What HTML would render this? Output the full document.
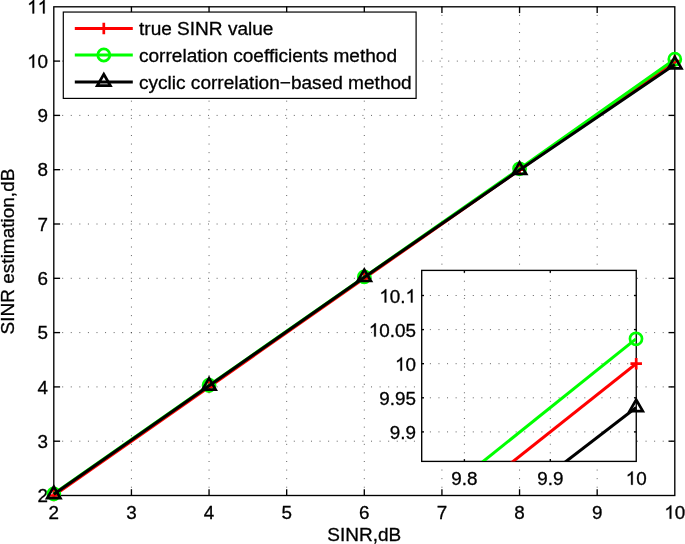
<!DOCTYPE html>
<html><head><meta charset="utf-8"><title>SINR estimation</title>
<style>
html,body{margin:0;padding:0;background:#fff;}
body{width:685px;height:544px;overflow:hidden;}
svg{display:block;filter:opacity(1);will-change:transform;}
text{font-family:"Liberation Sans",sans-serif;font-size:18.5px;fill:#000;stroke:#000;stroke-width:0.3px;}
</style></head><body>
<svg width="685" height="544" viewBox="0 0 685 544">
<rect x="0" y="0" width="685" height="544" fill="#fff"/>
<g stroke="#000" stroke-opacity="0.62" stroke-width="1" stroke-dasharray="1 7.579" fill="none">
<line x1="131.43" y1="6.30" x2="131.43" y2="495.50"/>
<line x1="209.05" y1="6.30" x2="209.05" y2="495.50"/>
<line x1="286.68" y1="6.30" x2="286.68" y2="495.50"/>
<line x1="364.30" y1="6.30" x2="364.30" y2="495.50"/>
<line x1="441.93" y1="6.30" x2="441.93" y2="495.50"/>
<line x1="519.55" y1="6.30" x2="519.55" y2="495.50"/>
<line x1="597.17" y1="6.30" x2="597.17" y2="495.50"/>
<line x1="53.60" y1="441.20" x2="674.80" y2="441.20"/>
<line x1="53.60" y1="386.90" x2="674.80" y2="386.90"/>
<line x1="53.60" y1="332.60" x2="674.80" y2="332.60"/>
<line x1="53.60" y1="278.30" x2="674.80" y2="278.30"/>
<line x1="53.60" y1="224.00" x2="674.80" y2="224.00"/>
<line x1="53.60" y1="169.70" x2="674.80" y2="169.70"/>
<line x1="53.60" y1="115.40" x2="674.80" y2="115.40"/>
<line x1="53.60" y1="61.10" x2="674.80" y2="61.10"/>
</g>
<g stroke="#000" stroke-width="1.35" fill="none">
<rect x="53.80" y="6.80" width="621.00" height="488.70"/>
<line x1="131.43" y1="495.50" x2="131.43" y2="489.20"/><line x1="131.43" y1="6.80" x2="131.43" y2="13.10"/>
<line x1="209.05" y1="495.50" x2="209.05" y2="489.20"/><line x1="209.05" y1="6.80" x2="209.05" y2="13.10"/>
<line x1="286.68" y1="495.50" x2="286.68" y2="489.20"/><line x1="286.68" y1="6.80" x2="286.68" y2="13.10"/>
<line x1="364.30" y1="495.50" x2="364.30" y2="489.20"/><line x1="364.30" y1="6.80" x2="364.30" y2="13.10"/>
<line x1="441.93" y1="495.50" x2="441.93" y2="489.20"/><line x1="441.93" y1="6.80" x2="441.93" y2="13.10"/>
<line x1="519.55" y1="495.50" x2="519.55" y2="489.20"/><line x1="519.55" y1="6.80" x2="519.55" y2="13.10"/>
<line x1="597.17" y1="495.50" x2="597.17" y2="489.20"/><line x1="597.17" y1="6.80" x2="597.17" y2="13.10"/>
<line x1="53.80" y1="441.20" x2="60.10" y2="441.20"/><line x1="674.80" y1="441.20" x2="668.50" y2="441.20"/>
<line x1="53.80" y1="386.90" x2="60.10" y2="386.90"/><line x1="674.80" y1="386.90" x2="668.50" y2="386.90"/>
<line x1="53.80" y1="332.60" x2="60.10" y2="332.60"/><line x1="674.80" y1="332.60" x2="668.50" y2="332.60"/>
<line x1="53.80" y1="278.30" x2="60.10" y2="278.30"/><line x1="674.80" y1="278.30" x2="668.50" y2="278.30"/>
<line x1="53.80" y1="224.00" x2="60.10" y2="224.00"/><line x1="674.80" y1="224.00" x2="668.50" y2="224.00"/>
<line x1="53.80" y1="169.70" x2="60.10" y2="169.70"/><line x1="674.80" y1="169.70" x2="668.50" y2="169.70"/>
<line x1="53.80" y1="115.40" x2="60.10" y2="115.40"/><line x1="674.80" y1="115.40" x2="668.50" y2="115.40"/>
<line x1="53.80" y1="61.10" x2="60.10" y2="61.10"/><line x1="674.80" y1="61.10" x2="668.50" y2="61.10"/>
</g>
<g text-anchor="middle">
<text transform="translate(53.80 518.70) scale(1.02 1)" text-anchor="middle">2</text><text transform="translate(131.43 518.70) scale(1.02 1)" text-anchor="middle">3</text><text transform="translate(209.05 518.70) scale(1.02 1)" text-anchor="middle">4</text><text transform="translate(286.68 518.70) scale(1.02 1)" text-anchor="middle">5</text><text transform="translate(364.30 518.70) scale(1.02 1)" text-anchor="middle">6</text><text transform="translate(441.93 518.70) scale(1.02 1)" text-anchor="middle">7</text><text transform="translate(519.55 518.70) scale(1.02 1)" text-anchor="middle">8</text><text transform="translate(597.17 518.70) scale(1.02 1)" text-anchor="middle">9</text><path transform="translate(664.31 518.70) scale(18.870 -18.500)" d="M0.3726 0H0.2847V0.5601Q0.2529 0.5298 0.2014 0.4995Q0.1499 0.4692 0.1089 0.4541V0.5391Q0.1826 0.5737 0.2378 0.6230Q0.2930 0.6724 0.3159 0.7188H0.3726Z" fill="#000" stroke="#000" stroke-width="0.016"/><text text-anchor="start" transform="translate(674.80 518.70) scale(1.02 1)">0</text>
</g>
<g text-anchor="end">
<text transform="translate(48.10 502.10) scale(1.02 1)" text-anchor="end">2</text><text transform="translate(48.10 447.80) scale(1.02 1)" text-anchor="end">3</text><text transform="translate(48.10 393.50) scale(1.02 1)" text-anchor="end">4</text><text transform="translate(48.10 339.20) scale(1.02 1)" text-anchor="end">5</text><text transform="translate(48.10 284.90) scale(1.02 1)" text-anchor="end">6</text><text transform="translate(48.10 230.60) scale(1.02 1)" text-anchor="end">7</text><text transform="translate(48.10 176.30) scale(1.02 1)" text-anchor="end">8</text><text transform="translate(48.10 122.00) scale(1.02 1)" text-anchor="end">9</text><path transform="translate(27.12 67.70) scale(18.870 -18.500)" d="M0.3726 0H0.2847V0.5601Q0.2529 0.5298 0.2014 0.4995Q0.1499 0.4692 0.1089 0.4541V0.5391Q0.1826 0.5737 0.2378 0.6230Q0.2930 0.6724 0.3159 0.7188H0.3726Z" fill="#000" stroke="#000" stroke-width="0.016"/><text text-anchor="start" transform="translate(37.61 67.70) scale(1.02 1)">0</text><path transform="translate(27.12 13.40) scale(18.870 -18.500)" d="M0.3726 0H0.2847V0.5601Q0.2529 0.5298 0.2014 0.4995Q0.1499 0.4692 0.1089 0.4541V0.5391Q0.1826 0.5737 0.2378 0.6230Q0.2930 0.6724 0.3159 0.7188H0.3726Z" fill="#000" stroke="#000" stroke-width="0.016"/><path transform="translate(37.61 13.40) scale(18.870 -18.500)" d="M0.3726 0H0.2847V0.5601Q0.2529 0.5298 0.2014 0.4995Q0.1499 0.4692 0.1089 0.4541V0.5391Q0.1826 0.5737 0.2378 0.6230Q0.2930 0.6724 0.3159 0.7188H0.3726Z" fill="#000" stroke="#000" stroke-width="0.016"/>
</g>
<text transform="translate(364.20 541.00) scale(1.027 1)" text-anchor="middle">SINR,dB</text>
<text transform="translate(13.80 251.50) rotate(-90) scale(1.027 1)" text-anchor="middle">SINR estimation,dB</text>
<polyline points="53.80,495.50 209.05,386.90 364.30,278.30 519.55,169.70 674.80,61.10" stroke="#f00" stroke-width="3.05" fill="none" stroke-linejoin="round"/>
<path d="M48.05 495.50H59.55M53.80 489.75V501.25" stroke="#f00" stroke-width="2.7" fill="none"/><path d="M203.30 386.90H214.80M209.05 381.15V392.65" stroke="#f00" stroke-width="2.7" fill="none"/><path d="M358.55 278.30H370.05M364.30 272.55V284.05" stroke="#f00" stroke-width="2.7" fill="none"/><path d="M513.80 169.70H525.30M519.55 163.95V175.45" stroke="#f00" stroke-width="2.7" fill="none"/><path d="M669.05 61.10H680.55M674.80 55.35V66.85" stroke="#f00" stroke-width="2.7" fill="none"/>
<polyline points="53.80,493.87 209.05,385.27 364.30,276.89 519.55,168.83 674.80,59.15" stroke="#0f0" stroke-width="3.05" fill="none" stroke-linejoin="round"/>
<circle cx="53.80" cy="493.87" r="6.05" stroke="#0f0" stroke-width="2.7" fill="none"/><circle cx="209.05" cy="385.27" r="6.05" stroke="#0f0" stroke-width="2.7" fill="none"/><circle cx="364.30" cy="276.89" r="6.05" stroke="#0f0" stroke-width="2.7" fill="none"/><circle cx="519.55" cy="168.83" r="6.05" stroke="#0f0" stroke-width="2.7" fill="none"/><circle cx="674.80" cy="59.15" r="6.05" stroke="#0f0" stroke-width="2.7" fill="none"/>
<polyline points="53.80,494.31 209.05,385.81 364.30,277.21 519.55,169.97 674.80,64.58" stroke="#000" stroke-width="3.05" fill="none" stroke-linejoin="round"/>
<path d="M53.80 486.68L60.40 498.12L47.20 498.12Z" stroke="#000" stroke-width="2.7" stroke-linejoin="miter" fill="none"/><path d="M209.05 378.19L215.65 389.62L202.45 389.62Z" stroke="#000" stroke-width="2.7" stroke-linejoin="miter" fill="none"/><path d="M364.30 269.59L370.90 281.02L357.70 281.02Z" stroke="#000" stroke-width="2.7" stroke-linejoin="miter" fill="none"/><path d="M519.55 162.35L526.15 173.78L512.95 173.78Z" stroke="#000" stroke-width="2.7" stroke-linejoin="miter" fill="none"/><path d="M674.80 56.95L681.40 68.39L668.20 68.39Z" stroke="#000" stroke-width="2.7" stroke-linejoin="miter" fill="none"/>
<rect x="63.3" y="12.05" width="352.8" height="86.35" fill="#fff" stroke="#000" stroke-width="1.2" transform="translate(0.0 0.0)"/>
<line x1="74.8" y1="28.40" x2="132.8" y2="28.40" stroke="#f00" stroke-width="3.05"/><path d="M98.05 28.40H109.55M103.80 22.65V34.15" stroke="#f00" stroke-width="2.7" fill="none"/><text transform="translate(139.00 35.40) scale(1.031 1)" text-anchor="start">true SINR value</text>
<line x1="74.8" y1="55.00" x2="132.8" y2="55.00" stroke="#0f0" stroke-width="3.05"/><circle cx="103.80" cy="55.00" r="6.05" stroke="#0f0" stroke-width="2.7" fill="none"/><text transform="translate(139.00 62.10) scale(1.031 1)" text-anchor="start">correlation coefficients method</text>
<line x1="74.8" y1="81.90" x2="132.8" y2="81.90" stroke="#000" stroke-width="3.05"/><path d="M103.80 74.28L110.40 85.71L97.20 85.71Z" stroke="#000" stroke-width="2.7" stroke-linejoin="miter" fill="none"/><text transform="translate(139.00 89.00) scale(1.031 1)" text-anchor="start">cyclic correlation−based method</text>
<rect x="421.70" y="270.40" width="214.55" height="191.00" fill="#fff"/>
<g stroke="#000" stroke-opacity="0.62" stroke-width="1" stroke-dasharray="1 7.579" fill="none">
<line x1="464.40" y1="461.90" x2="464.40" y2="270.40"/>
<line x1="550.30" y1="461.90" x2="550.30" y2="270.40"/>
<line x1="421.30" y1="431.90" x2="636.25" y2="431.90"/>
<line x1="421.30" y1="397.80" x2="636.25" y2="397.80"/>
<line x1="421.30" y1="363.70" x2="636.25" y2="363.70"/>
<line x1="421.30" y1="329.60" x2="636.25" y2="329.60"/>
<line x1="421.30" y1="295.50" x2="636.25" y2="295.50"/>
</g>
<g stroke="#000" stroke-width="1.35" fill="none">
<rect x="421.70" y="270.40" width="214.55" height="191.00"/>
<line x1="464.40" y1="461.40" x2="464.40" y2="459.10"/><line x1="464.40" y1="270.40" x2="464.40" y2="272.70"/>
<line x1="550.30" y1="461.40" x2="550.30" y2="459.10"/><line x1="550.30" y1="270.40" x2="550.30" y2="272.70"/>
<line x1="421.70" y1="431.90" x2="424.00" y2="431.90"/><line x1="636.25" y1="431.90" x2="633.95" y2="431.90"/>
<line x1="421.70" y1="397.80" x2="424.00" y2="397.80"/><line x1="636.25" y1="397.80" x2="633.95" y2="397.80"/>
<line x1="421.70" y1="363.70" x2="424.00" y2="363.70"/><line x1="636.25" y1="363.70" x2="633.95" y2="363.70"/>
<line x1="421.70" y1="329.60" x2="424.00" y2="329.60"/><line x1="636.25" y1="329.60" x2="633.95" y2="329.60"/>
<line x1="421.70" y1="295.50" x2="424.00" y2="295.50"/><line x1="636.25" y1="295.50" x2="633.95" y2="295.50"/>
</g>
<clipPath id="ic"><rect x="421.70" y="270.40" width="214.55" height="191.00"/></clipPath>
<polyline clip-path="url(#ic)" points="-1081.80,1727.70 636.20,363.70" stroke="#f00" stroke-width="3.05" fill="none"/>
<path d="M630.45 363.70H641.95M636.20 357.95V369.45" stroke="#f00" stroke-width="2.7" fill="none"/>
<g transform="translate(-0.2 -0.3)"><polyline clip-path="url(#ic)" points="-1081.80,1716.79 636.20,339.15" stroke="#0f0" stroke-width="3.05" fill="none"/>
<circle cx="636.20" cy="339.15" r="6.05" stroke="#0f0" stroke-width="2.7" fill="none"/>
</g>
<polyline clip-path="url(#ic)" points="-1081.80,1731.11 636.20,407.35" stroke="#000" stroke-width="3.05" fill="none"/>
<path d="M636.20 399.73L642.80 411.16L629.60 411.16Z" stroke="#000" stroke-width="2.7" stroke-linejoin="miter" fill="none"/>
<g text-anchor="middle">
<text transform="translate(464.40 484.70) scale(1.02 1)" text-anchor="middle">9.8</text><text transform="translate(550.30 484.70) scale(1.02 1)" text-anchor="middle">9.9</text><path transform="translate(625.71 484.70) scale(18.870 -18.500)" d="M0.3726 0H0.2847V0.5601Q0.2529 0.5298 0.2014 0.4995Q0.1499 0.4692 0.1089 0.4541V0.5391Q0.1826 0.5737 0.2378 0.6230Q0.2930 0.6724 0.3159 0.7188H0.3726Z" fill="#000" stroke="#000" stroke-width="0.016"/><text text-anchor="start" transform="translate(636.20 484.70) scale(1.02 1)">0</text>
</g>
<g text-anchor="end">
<text transform="translate(416.00 438.90) scale(1.02 1)" text-anchor="end">9.9</text><text transform="translate(416.00 404.80) scale(1.02 1)" text-anchor="end">9.95</text><path transform="translate(395.02 370.70) scale(18.870 -18.500)" d="M0.3726 0H0.2847V0.5601Q0.2529 0.5298 0.2014 0.4995Q0.1499 0.4692 0.1089 0.4541V0.5391Q0.1826 0.5737 0.2378 0.6230Q0.2930 0.6724 0.3159 0.7188H0.3726Z" fill="#000" stroke="#000" stroke-width="0.016"/><text text-anchor="start" transform="translate(405.51 370.70) scale(1.02 1)">0</text><path transform="translate(368.79 336.60) scale(18.870 -18.500)" d="M0.3726 0H0.2847V0.5601Q0.2529 0.5298 0.2014 0.4995Q0.1499 0.4692 0.1089 0.4541V0.5391Q0.1826 0.5737 0.2378 0.6230Q0.2930 0.6724 0.3159 0.7188H0.3726Z" fill="#000" stroke="#000" stroke-width="0.016"/><text text-anchor="start" transform="translate(379.28 336.60) scale(1.02 1)">0</text><text text-anchor="start" transform="translate(389.77 336.60) scale(1.02 1)">.</text><text text-anchor="start" transform="translate(395.02 336.60) scale(1.02 1)">0</text><text text-anchor="start" transform="translate(405.51 336.60) scale(1.02 1)">5</text><path transform="translate(379.28 302.50) scale(18.870 -18.500)" d="M0.3726 0H0.2847V0.5601Q0.2529 0.5298 0.2014 0.4995Q0.1499 0.4692 0.1089 0.4541V0.5391Q0.1826 0.5737 0.2378 0.6230Q0.2930 0.6724 0.3159 0.7188H0.3726Z" fill="#000" stroke="#000" stroke-width="0.016"/><text text-anchor="start" transform="translate(389.77 302.50) scale(1.02 1)">0</text><text text-anchor="start" transform="translate(400.26 302.50) scale(1.02 1)">.</text><path transform="translate(405.51 302.50) scale(18.870 -18.500)" d="M0.3726 0H0.2847V0.5601Q0.2529 0.5298 0.2014 0.4995Q0.1499 0.4692 0.1089 0.4541V0.5391Q0.1826 0.5737 0.2378 0.6230Q0.2930 0.6724 0.3159 0.7188H0.3726Z" fill="#000" stroke="#000" stroke-width="0.016"/>
</g>
</svg>
</body></html>
